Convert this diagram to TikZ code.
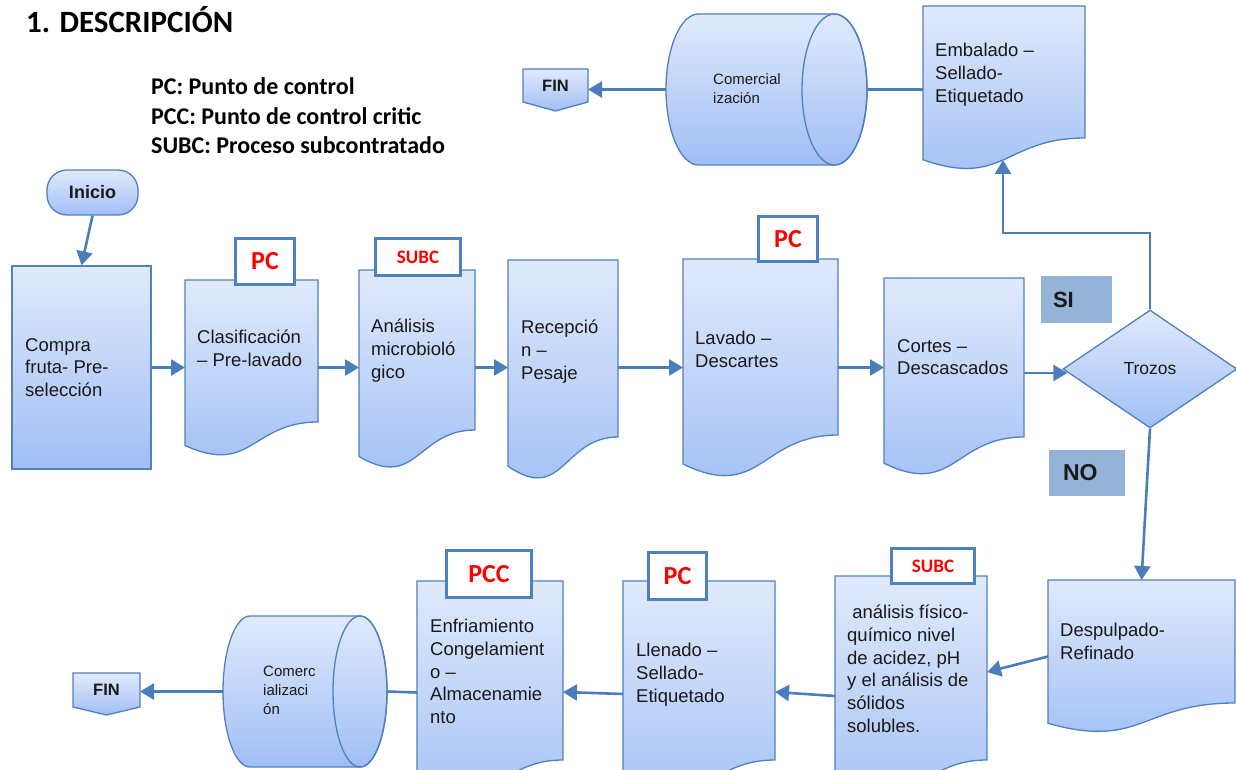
\documentclass[tikz,border=0pt]{standalone}
\usepackage{fontspec}
\setmainfont{Liberation Sans}
\newfontfamily\carlito{Carlito}
\usetikzlibrary{arrows.meta,shapes.geometric,calc}
\definecolor{bord}{RGB}{79,129,189}
\definecolor{topc}{RGB}{224,234,252}
\definecolor{botc}{RGB}{160,190,245}
\definecolor{sinoc}{RGB}{149,179,215}
\definecolor{arrc}{RGB}{74,126,187}
\definecolor{txtc}{RGB}{25,25,25}
\newcommand\docshape[5]{%
  \pgfmathsetmacro\DSm{(#2+#4)/2}%
  \pgfmathsetmacro\DSc{(#3+#5)/2}%
  \pgfmathsetmacro\DSa{#5+0.380*(#5-#3)}%
  \pgfmathsetmacro\DSb{#5+0.165*(#5-#3)}%
  \path[docsh] (#2,#3) -- (#4,#3) -- (#4,#5) .. controls (\DSm,#5) and (\DSm,\DSa) .. (#2,\DSb) -- cycle;
  \node[inner sep=0pt, outer sep=0pt, minimum width={#4-#2}, minimum height={#5-#3}] (#1) at (\DSm,\DSc) {};
}
\newcommand\cyl[6]{%
  \pgfmathsetmacro\CYh{(#5-#3)/2}%
  \pgfmathsetmacro\CYm{(#3+#5)/2}%
  \path[docsh] (#2+#6,#3) -- (#4-#6,#3) arc[start angle=90,end angle=-90,x radius=#6pt,y radius=\CYh pt] -- (#2+#6,#5) arc[start angle=270,end angle=90,x radius=#6pt,y radius=\CYh pt] -- cycle;
  \draw[draw=bord, line width=1.3pt] (#4-#6,\CYm) ellipse[x radius=#6pt, y radius=\CYh pt];
  \node[inner sep=0pt, outer sep=0pt, minimum width={#4-#2}, minimum height={#5-#3}] (#1) at ({(#2+#4)/2},\CYm) {};
}
\newcommand\offpage[6]{%
  \path[docsh] (#2,#4) -- (#3,#4) -- (#3,#5) -- ({(#2+#3)/2},#6) -- (#2,#5) -- cycle;
  \node[inner sep=0pt, outer sep=0pt, minimum width={#3-#2}, minimum height={#5-#4}, font=\bfseries\fontsize{16.5}{16.5}\selectfont, text=txtc] (#1) at ({(#2+#3)/2},{(#4+#5)/2}) {FIN};
}
\begin{document}
\begin{tikzpicture}[x=1pt,y=-1pt,
  docsh/.style={draw=bord, line width=1.3pt, top color=topc, bottom color=botc},
  txt/.style={inner sep=0pt, anchor=north west, align=left, font=\fontsize{18.5}{22.7}\selectfont, text=txtc},
  smtxt/.style={txt, font=\fontsize{15}{19.5}\selectfont},
  tagbox/.style={draw=bord, line width=3.5pt, fill=white, inner sep=0pt, text=red, font=\carlito\bfseries\fontsize{26}{26}\selectfont},
  tagsm/.style={tagbox, font=\carlito\bfseries\fontsize{19}{19}\selectfont},
  sinobox/.style={fill=sinoc, inner ysep=0pt, align=left, font=\bfseries\fontsize{22}{22}\selectfont, text=txtc},
  legend/.style={anchor=base west, inner sep=0pt, font=\carlito\bfseries\fontsize{24}{24}\selectfont, text=black},
  arr/.style={draw=arrc, line width=2.6pt, -{Triangle[length=14pt,width=16pt]}},
  ln/.style={draw=arrc, line width=2.6pt}]
\useasboundingbox (0,0) rectangle (1236,770);
\fill[white] (0,0) rectangle (1236,770);

% titles
\node[anchor=base west, inner sep=0pt, font=\carlito\bfseries\fontsize{31}{31}\selectfont, text=black] (title) at (26,33) {1. DESCRIPCIÓN};
\node[legend] (leg1) at (151,95) {PC: Punto de control};
\node[legend] (leg2) at (151,125) {PCC: Punto de control critic};
\node[legend] (leg3) at (151,154) {SUBC: Proceso subcontratado};

% start
\node[rectangle, rounded corners=20pt, minimum width=91pt, minimum height=45pt, docsh, font=\bfseries\fontsize{18}{18}\selectfont, text=txtc] (inicio) at (92.5,192.5) {Inicio};
\node[rectangle, docsh, minimum width=139pt, minimum height=203pt, inner sep=0pt] (compra) at (81.5,367.5) {};
\node[txt] (compra-t) at (25,338) {Compra\\fruta- Pre-\\selección};

% top row documents
\docshape{clas}{185}{280}{318}{422}
\docshape{anal}{359}{270}{475}{430}
\docshape{recep}{508}{260}{618}{437}
\docshape{lav}{683}{259}{838}{435}
\docshape{cortes}{884}{278}{1024}{437}
\docshape{emb}{923}{6}{1085}{138}
\node[txt] (clas-t) at (197,330) {Clasificación\\– Pre-lavado};
\node[txt] (anal-t) at (371,319) {Análisis\\microbioló\\gico};
\node[txt] (recep-t) at (521,320) {Recepció\\n –\\Pesaje};
\node[txt] (lav-t) at (695,331) {Lavado –\\Descartes};
\node[txt] (cortes-t) at (897,339) {Cortes –\\Descascados};
\node[txt] (emb-t) at (935,43) {Embalado –\\Sellado-\\Etiquetado};

% bottom row documents
\docshape{desp}{1048}{580}{1235}{703}
\docshape{fis}{835}{576}{987}{760}
\docshape{llen}{623}{581}{775}{760}
\docshape{enf}{417}{581}{563}{760}
\node[txt] (desp-t) at (1060,623) {Despulpado-\\Refinado};
\node[txt] (fis-t) at (847,605) {~análisis físico-\\químico nivel\\de acidez, pH\\y el análisis de\\sólidos\\solubles.};
\node[txt] (llen-t) at (636,643) {Llenado –\\Sellado-\\Etiquetado};
\node[txt] (enf-t) at (430,619) {Enfriamiento\\Congelamient\\o –\\Almacenamie\\nto};

% cylinders and ends
\cyl{com1}{666}{14}{867}{165}{32.5}
\cyl{com2}{223}{616}{387}{767}{27}
\node[smtxt] (com1-t) at (713,73) {Comercial\\ización};
\node[smtxt, font=\fontsize{15}{18.7}\selectfont] (com2-t) at (263,666) {Comerc\\ializaci\\ón};
\offpage{fin1}{523}{588}{69}{102}{111}
\offpage{fin2}{73}{140}{673}{707}{715}

% decision
\node[diamond, docsh, minimum width=174pt, minimum height=118pt, inner sep=0pt, font=\fontsize{17.5}{17.5}\selectfont, text=txtc] (trozos) at (1150,369) {Trozos};
\node[sinobox, minimum width=71pt, minimum height=47pt, text width=47pt, inner xsep=12pt] (si) at (1076.5,299.5) {SI};
\node[sinobox, minimum width=76pt, minimum height=46pt, text width=48pt, inner xsep=14pt, font=\bfseries\fontsize{23}{23}\selectfont] (no) at (1087,473) {NO};

% tags
\node[tagbox, minimum width=59pt, minimum height=46pt] (tag1) at (265,261.5) {PC};
\node[tagsm, minimum width=85pt, minimum height=37pt] (tag2) at (418,257) {SUBC};
\node[tagbox, minimum width=59pt, minimum height=45pt] (tag3) at (788,239) {PC};
\node[tagsm, minimum width=83pt, minimum height=35pt] (tag4) at (933,566) {SUBC};
\node[tagbox, minimum width=58pt, minimum height=47pt] (tag5) at (677.5,576) {PC};
\node[tagbox, minimum width=85pt, minimum height=47pt] (tag6) at (489,574) {PCC};

% connectors
\coordinate (sij) at (1003,233);
\coordinate (embb) at (1003,160);
\draw[arr] (inicio.south) -- (compra.north);
\draw[arr] (compra.east) -- (compra.east -| clas.west);
\draw[arr] (clas.east |- compra.east) -- (anal.west |- compra.east);
\draw[arr] (anal.east |- compra.east) -- (recep.west |- compra.east);
\draw[arr] (recep.east |- compra.east) -- (lav.west |- compra.east);
\draw[arr] (lav.east |- compra.east) -- (cortes.west |- compra.east);
\draw[arr] ([yshift=-4pt]trozos.west -| cortes.east) -- ([shift={(5pt,-4pt)}]trozos.west);
\draw[arr] (trozos.north) |- (sij) -- (embb);
\draw[arr] (trozos.south) -- (desp.north);
\draw[arr] ([yshift=-15pt]desp.west) -- ([yshift=-4pt]fis.east);
\draw[arr] ([yshift=-28pt]fis.west) -- ([yshift=-21.5pt]llen.east);
\draw[arr] ([yshift=-23.5pt]llen.west) -- ([yshift=-21.5pt]enf.east);
\draw[ln] ([yshift=-22pt]enf.west) -- (com2.east);
\draw[arr] (com2.west) -- (com2.west -| fin2.east);
\draw[ln] (com1.east -| emb.west) -- (com1.east);
\draw[arr] (com1.west) -- (com1.west -| fin1.east);
\end{tikzpicture}
\end{document}
